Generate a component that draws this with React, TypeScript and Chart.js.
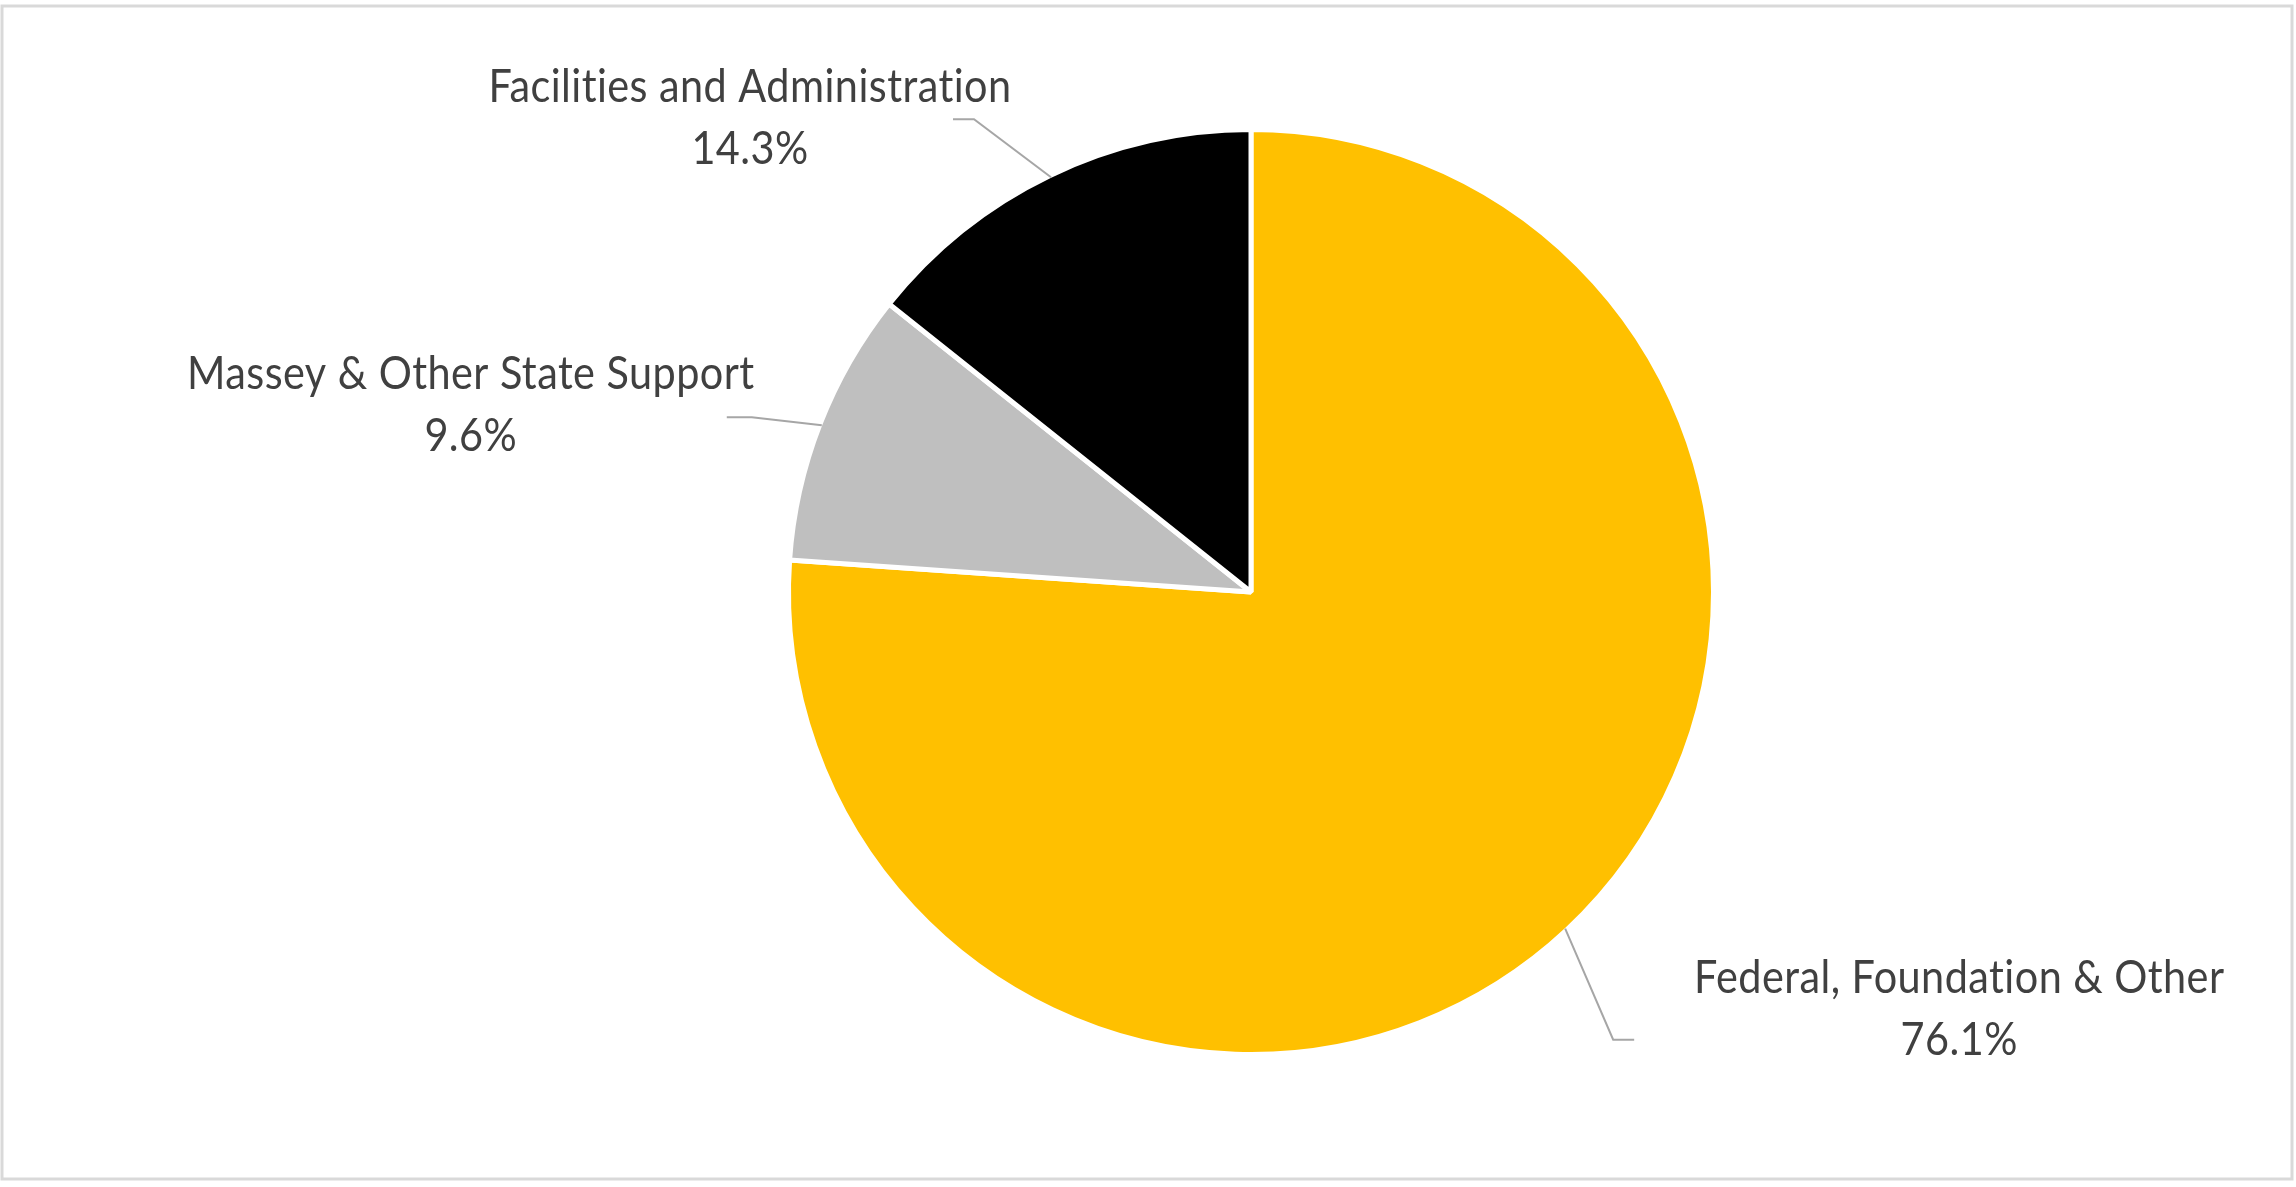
import React, { useEffect, useRef } from 'react';
import Chart from 'chart.js/auto';

const categories = ['Federal, Foundation & Other', 'Massey & Other State Support', 'Facilities and Administration'];
const shares = [76.1, 9.6, 14.3];
const sliceColors = ['#FFC000', '#BFBFBF', '#000000'];

// label placement relative to the slice edge at its mid angle
const labelOffsets = [
  { elbow: [48, 111], end: [69, 111], text: [394, 80] },
  { elbow: [-70, -8], end: [-95, -8], text: [-351, -20] },
  { elbow: [-77, -58], end: [-98, -58], text: [-301, -59] },
];

const FONT = '46px Lato, "Open Sans", sans-serif';
const SQUEEZE = 0.9;
const LINE_GAP = 31;

const calloutPlugin = {
  id: 'callouts',
  beforeDraw(chart: any) {
    const { ctx, width, height } = chart;
    ctx.save();
    ctx.fillStyle = '#ffffff';
    ctx.fillRect(0, 0, width, height);
    ctx.strokeStyle = '#D9D9D9';
    ctx.lineWidth = 3;
    ctx.strokeRect(2, 6, width - 6, height - 14);
    ctx.restore();
  },
  afterDatasetsDraw(chart: any) {
    const { ctx } = chart;
    const meta = chart.getDatasetMeta(0);
    meta.data.forEach((arc: any, i: number) => {
      const { x, y, startAngle, endAngle, outerRadius } = arc.getProps(['x', 'y', 'startAngle', 'endAngle', 'outerRadius'], true);
      const mid = (startAngle + endAngle) / 2;
      const r = outerRadius - 2;
      const sx = x + Math.cos(mid) * r;
      const sy = y + Math.sin(mid) * r;
      const o = labelOffsets[i];

      ctx.save();
      ctx.strokeStyle = '#A6A6A6';
      ctx.lineWidth = 2;
      ctx.beginPath();
      ctx.moveTo(sx, sy);
      ctx.lineTo(sx + o.elbow[0], sy + o.elbow[1]);
      ctx.lineTo(sx + o.end[0], sy + o.end[1]);
      ctx.stroke();
      ctx.restore();

      const tx = sx + o.text[0];
      const ty = sy + o.text[1];
      const lines = [categories[i], shares[i].toFixed(1) + '%'];
      lines.forEach((line, k) => {
        ctx.save();
        ctx.fillStyle = '#404040';
        ctx.font = FONT;
        (ctx as any).letterSpacing = '0.5px';
        ctx.textAlign = 'center';
        ctx.textBaseline = 'middle';
        ctx.translate(tx, ty + (k === 0 ? -LINE_GAP : LINE_GAP));
        ctx.scale(SQUEEZE, 1);
        ctx.fillText(line, 0, 0);
        ctx.restore();
      });
    });
  },
};

const App: React.FC = () => {
  const chartRef = useRef<HTMLCanvasElement>(null);

  useEffect(() => {
    if (!chartRef.current) return;
    const ctx = chartRef.current.getContext('2d');
    if (!ctx) return;

    const chart = new Chart(ctx, {
      type: 'pie',
      data: {
        labels: categories,
        datasets: [
          {
            data: shares,
            backgroundColor: sliceColors,
            borderColor: '#ffffff',
            borderWidth: 5,
          },
        ],
      },
      options: {
        animation: false,
        responsive: true,
        maintainAspectRatio: false,
        layout: { padding: { top: 127, bottom: 130, left: 786, right: 580 } },
        plugins: {
          legend: { display: false },
          tooltip: { enabled: false },
        },
      },
      plugins: [calloutPlugin],
    });

    return () => chart.destroy();
  }, []);

  return (
    <div style={{ position: 'fixed', left: 0, top: 0, width: '100vw', height: '100vh' }}>
      <canvas ref={chartRef} />
    </div>
  );
};

export default App;
